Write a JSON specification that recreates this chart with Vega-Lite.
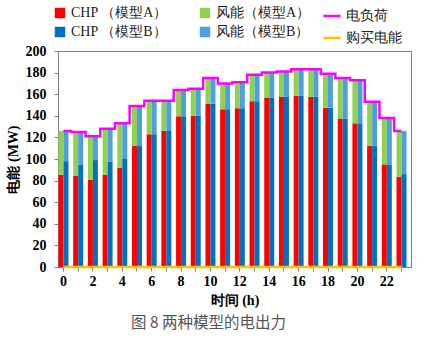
{
  "$schema": "https://vega.github.io/schema/vega-lite/v6.json",
  "width": 353,
  "height": 216,
  "autosize": "none",
  "padding": {"left": 58, "top": 51, "right": 19, "bottom": 73},
  "background": "white",
  "config": {
    "view": {"stroke": "#808080", "strokeWidth": 1},
    "font": "Liberation Serif",
    "axis": {"grid": false, "domainColor": "#808080", "tickColor": "#808080", "labelColor": "#000", "titleColor": "#000"}
  },
  "title": {
    "text": "图 8 两种模型的电出力",
    "orient": "bottom",
    "anchor": "middle",
    "frame": "bounds",
    "font": "Noto Sans CJK SC",
    "fontSize": 15.5,
    "fontWeight": "normal",
    "color": "#555555",
    "offset": 9
  },
  "datasets": {
    "bars": [
      {"hour": 0, "model": "A", "source": "CHP （模型A）", "value": 85.5},
      {"hour": 0, "model": "A", "source": "风能（模型A）", "value": 40.5},
      {"hour": 0, "model": "B", "source": "CHP （模型B）", "value": 98},
      {"hour": 0, "model": "B", "source": "风能（模型B）", "value": 28},
      {"hour": 1, "model": "A", "source": "CHP （模型A）", "value": 84.5},
      {"hour": 1, "model": "A", "source": "风能（模型A）", "value": 40.5},
      {"hour": 1, "model": "B", "source": "CHP （模型B）", "value": 94.5},
      {"hour": 1, "model": "B", "source": "风能（模型B）", "value": 30.5},
      {"hour": 2, "model": "A", "source": "CHP （模型A）", "value": 81},
      {"hour": 2, "model": "A", "source": "风能（模型A）", "value": 40},
      {"hour": 2, "model": "B", "source": "CHP （模型B）", "value": 99},
      {"hour": 2, "model": "B", "source": "风能（模型B）", "value": 22},
      {"hour": 3, "model": "A", "source": "CHP （模型A）", "value": 85.5},
      {"hour": 3, "model": "A", "source": "风能（模型A）", "value": 42.5},
      {"hour": 3, "model": "B", "source": "CHP （模型B）", "value": 97.5},
      {"hour": 3, "model": "B", "source": "风能（模型B）", "value": 30.5},
      {"hour": 4, "model": "A", "source": "CHP （模型A）", "value": 92},
      {"hour": 4, "model": "A", "source": "风能（模型A）", "value": 41},
      {"hour": 4, "model": "B", "source": "CHP （模型B）", "value": 100},
      {"hour": 4, "model": "B", "source": "风能（模型B）", "value": 33},
      {"hour": 5, "model": "A", "source": "CHP （模型A）", "value": 112},
      {"hour": 5, "model": "A", "source": "风能（模型A）", "value": 37},
      {"hour": 5, "model": "B", "source": "CHP （模型B）", "value": 112},
      {"hour": 5, "model": "B", "source": "风能（模型B）", "value": 37},
      {"hour": 6, "model": "A", "source": "CHP （模型A）", "value": 123},
      {"hour": 6, "model": "A", "source": "风能（模型A）", "value": 31},
      {"hour": 6, "model": "B", "source": "CHP （模型B）", "value": 123},
      {"hour": 6, "model": "B", "source": "风能（模型B）", "value": 31},
      {"hour": 7, "model": "A", "source": "CHP （模型A）", "value": 126},
      {"hour": 7, "model": "A", "source": "风能（模型A）", "value": 28},
      {"hour": 7, "model": "B", "source": "CHP （模型B）", "value": 126},
      {"hour": 7, "model": "B", "source": "风能（模型B）", "value": 28},
      {"hour": 8, "model": "A", "source": "CHP （模型A）", "value": 139.5},
      {"hour": 8, "model": "A", "source": "风能（模型A）", "value": 24.5},
      {"hour": 8, "model": "B", "source": "CHP （模型B）", "value": 139.5},
      {"hour": 8, "model": "B", "source": "风能（模型B）", "value": 24.5},
      {"hour": 9, "model": "A", "source": "CHP （模型A）", "value": 140},
      {"hour": 9, "model": "A", "source": "风能（模型A）", "value": 25},
      {"hour": 9, "model": "B", "source": "CHP （模型B）", "value": 140},
      {"hour": 9, "model": "B", "source": "风能（模型B）", "value": 25},
      {"hour": 10, "model": "A", "source": "CHP （模型A）", "value": 151.5},
      {"hour": 10, "model": "A", "source": "风能（模型A）", "value": 23.5},
      {"hour": 10, "model": "B", "source": "CHP （模型B）", "value": 151.5},
      {"hour": 10, "model": "B", "source": "风能（模型B）", "value": 23.5},
      {"hour": 11, "model": "A", "source": "CHP （模型A）", "value": 146},
      {"hour": 11, "model": "A", "source": "风能（模型A）", "value": 24},
      {"hour": 11, "model": "B", "source": "CHP （模型B）", "value": 146},
      {"hour": 11, "model": "B", "source": "风能（模型B）", "value": 24},
      {"hour": 12, "model": "A", "source": "CHP （模型A）", "value": 147},
      {"hour": 12, "model": "A", "source": "风能（模型A）", "value": 24},
      {"hour": 12, "model": "B", "source": "CHP （模型B）", "value": 147},
      {"hour": 12, "model": "B", "source": "风能（模型B）", "value": 24},
      {"hour": 13, "model": "A", "source": "CHP （模型A）", "value": 153.5},
      {"hour": 13, "model": "A", "source": "风能（模型A）", "value": 24.5},
      {"hour": 13, "model": "B", "source": "CHP （模型B）", "value": 153.5},
      {"hour": 13, "model": "B", "source": "风能（模型B）", "value": 24.5},
      {"hour": 14, "model": "A", "source": "CHP （模型A）", "value": 157},
      {"hour": 14, "model": "A", "source": "风能（模型A）", "value": 23},
      {"hour": 14, "model": "B", "source": "CHP （模型B）", "value": 157},
      {"hour": 14, "model": "B", "source": "风能（模型B）", "value": 23},
      {"hour": 15, "model": "A", "source": "CHP （模型A）", "value": 157.5},
      {"hour": 15, "model": "A", "source": "风能（模型A）", "value": 23.5},
      {"hour": 15, "model": "B", "source": "CHP （模型B）", "value": 157.5},
      {"hour": 15, "model": "B", "source": "风能（模型B）", "value": 23.5},
      {"hour": 16, "model": "A", "source": "CHP （模型A）", "value": 158.5},
      {"hour": 16, "model": "A", "source": "风能（模型A）", "value": 24.5},
      {"hour": 16, "model": "B", "source": "CHP （模型B）", "value": 158.5},
      {"hour": 16, "model": "B", "source": "风能（模型B）", "value": 24.5},
      {"hour": 17, "model": "A", "source": "CHP （模型A）", "value": 157.5},
      {"hour": 17, "model": "A", "source": "风能（模型A）", "value": 25.5},
      {"hour": 17, "model": "B", "source": "CHP （模型B）", "value": 157.5},
      {"hour": 17, "model": "B", "source": "风能（模型B）", "value": 25.5},
      {"hour": 18, "model": "A", "source": "CHP （模型A）", "value": 147.5},
      {"hour": 18, "model": "A", "source": "风能（模型A）", "value": 31.5},
      {"hour": 18, "model": "B", "source": "CHP （模型B）", "value": 147.5},
      {"hour": 18, "model": "B", "source": "风能（模型B）", "value": 31.5},
      {"hour": 19, "model": "A", "source": "CHP （模型A）", "value": 137.5},
      {"hour": 19, "model": "A", "source": "风能（模型A）", "value": 37.5},
      {"hour": 19, "model": "B", "source": "CHP （模型B）", "value": 137.5},
      {"hour": 19, "model": "B", "source": "风能（模型B）", "value": 37.5},
      {"hour": 20, "model": "A", "source": "CHP （模型A）", "value": 133},
      {"hour": 20, "model": "A", "source": "风能（模型A）", "value": 40},
      {"hour": 20, "model": "B", "source": "CHP （模型B）", "value": 133},
      {"hour": 20, "model": "B", "source": "风能（模型B）", "value": 40},
      {"hour": 21, "model": "A", "source": "CHP （模型A）", "value": 112},
      {"hour": 21, "model": "A", "source": "风能（模型A）", "value": 41},
      {"hour": 21, "model": "B", "source": "CHP （模型B）", "value": 112},
      {"hour": 21, "model": "B", "source": "风能（模型B）", "value": 41},
      {"hour": 22, "model": "A", "source": "CHP （模型A）", "value": 95},
      {"hour": 22, "model": "A", "source": "风能（模型A）", "value": 43},
      {"hour": 22, "model": "B", "source": "CHP （模型B）", "value": 95},
      {"hour": 22, "model": "B", "source": "风能（模型B）", "value": 43},
      {"hour": 23, "model": "A", "source": "CHP （模型A）", "value": 83.5},
      {"hour": 23, "model": "A", "source": "风能（模型A）", "value": 42.5},
      {"hour": 23, "model": "B", "source": "CHP （模型B）", "value": 86},
      {"hour": 23, "model": "B", "source": "风能（模型B）", "value": 40}
    ],
    "lines": [
      {"hour": 0, "series": "电负荷", "value": 126}, {"hour": 1, "series": "电负荷", "value": 125},
      {"hour": 2, "series": "电负荷", "value": 121}, {"hour": 3, "series": "电负荷", "value": 128},
      {"hour": 4, "series": "电负荷", "value": 133}, {"hour": 5, "series": "电负荷", "value": 149},
      {"hour": 6, "series": "电负荷", "value": 154}, {"hour": 7, "series": "电负荷", "value": 154},
      {"hour": 8, "series": "电负荷", "value": 164}, {"hour": 9, "series": "电负荷", "value": 165},
      {"hour": 10, "series": "电负荷", "value": 175}, {"hour": 11, "series": "电负荷", "value": 170},
      {"hour": 12, "series": "电负荷", "value": 171}, {"hour": 13, "series": "电负荷", "value": 178},
      {"hour": 14, "series": "电负荷", "value": 180}, {"hour": 15, "series": "电负荷", "value": 181},
      {"hour": 16, "series": "电负荷", "value": 183}, {"hour": 17, "series": "电负荷", "value": 183},
      {"hour": 18, "series": "电负荷", "value": 179}, {"hour": 19, "series": "电负荷", "value": 175},
      {"hour": 20, "series": "电负荷", "value": 173}, {"hour": 21, "series": "电负荷", "value": 153},
      {"hour": 22, "series": "电负荷", "value": 138}, {"hour": 23, "series": "电负荷", "value": 126},
      {"hour": 0, "series": "购买电能", "value": 0}, {"hour": 1, "series": "购买电能", "value": 0},
      {"hour": 2, "series": "购买电能", "value": 0}, {"hour": 3, "series": "购买电能", "value": 0},
      {"hour": 4, "series": "购买电能", "value": 0}, {"hour": 5, "series": "购买电能", "value": 0},
      {"hour": 6, "series": "购买电能", "value": 0}, {"hour": 7, "series": "购买电能", "value": 0},
      {"hour": 8, "series": "购买电能", "value": 0}, {"hour": 9, "series": "购买电能", "value": 0},
      {"hour": 10, "series": "购买电能", "value": 0}, {"hour": 11, "series": "购买电能", "value": 0},
      {"hour": 12, "series": "购买电能", "value": 0}, {"hour": 13, "series": "购买电能", "value": 0},
      {"hour": 14, "series": "购买电能", "value": 0}, {"hour": 15, "series": "购买电能", "value": 0},
      {"hour": 16, "series": "购买电能", "value": 0}, {"hour": 17, "series": "购买电能", "value": 0},
      {"hour": 18, "series": "购买电能", "value": 0}, {"hour": 19, "series": "购买电能", "value": 0},
      {"hour": 20, "series": "购买电能", "value": 0}, {"hour": 21, "series": "购买电能", "value": 0},
      {"hour": 22, "series": "购买电能", "value": 0}, {"hour": 23, "series": "购买电能", "value": 0}
    ]
  },
  "encoding": {
    "x": {
      "field": "hour",
      "type": "ordinal",
      "scale": {"paddingInner": 0.32, "paddingOuter": 0.17, "align": 0.1},
      "axis": {
        "title": "时间 (h)",
        "labelAngle": 0,
        "labelExpr": "datum.value % 2 == 0 ? datum.label : ''",
        "labelFont": "Liberation Serif",
        "labelFontSize": 14,
        "labelFontWeight": "bold",
        "labelPadding": 3,
        "tickSize": 4,
        "titleFont": "Liberation Serif",
        "titleFontSize": 14,
        "titleFontWeight": "bold",
        "titlePadding": 5
      }
    },
    "y": {
      "field": "value",
      "type": "quantitative",
      "scale": {"domain": [0, 200], "nice": false},
      "axis": {
        "title": "电能 (MW)",
        "values": [0, 20, 40, 60, 80, 100, 120, 140, 160, 180, 200],
        "labelOverlap": false,
        "labelFont": "Liberation Serif",
        "labelFontSize": 14,
        "labelFontWeight": "bold",
        "labelPadding": 8,
        "tickSize": 4,
        "titleFont": "Liberation Serif",
        "titleFontSize": 14,
        "titleFontWeight": "bold",
        "titlePadding": 5
      }
    }
  },
  "layer": [
    {
      "data": {"name": "bars"},
      "mark": {"type": "bar"},
      "encoding": {
        "xOffset": {"field": "model", "type": "nominal", "scale": {"domain": ["A", "B"], "paddingInner": 0, "paddingOuter": 0}},
        "y": {"field": "value", "type": "quantitative", "stack": "zero"},
        "color": {
          "field": "source",
          "type": "nominal",
          "scale": {
            "domain": ["CHP （模型A）", "CHP （模型B）", "风能（模型A）", "风能（模型B）"],
            "range": ["#FF0000", "#0070C0", "#92D050", "#4DA0E0"]
          },
          "legend": {
            "title": null,
            "orient": "none",
            "legendX": -5,
            "legendY": -45,
            "columns": 2,
            "columnPadding": 30,
            "rowPadding": 5,
            "symbolType": "square",
            "symbolSize": 110,
            "symbolStrokeWidth": 0,
            "labelFont": "Liberation Serif",
            "labelFontSize": 14,
            "labelColor": "#222"
          }
        },
        "order": {"field": "source", "sort": "ascending"}
      }
    },
    {
      "data": {"name": "lines"},
      "mark": {"type": "line", "interpolate": "step", "strokeWidth": 2.5},
      "encoding": {
        "stroke": {
          "field": "series",
          "type": "nominal",
          "scale": {"domain": ["电负荷", "购买电能"], "range": ["#FF00FF", "#FFC000"]},
          "legend": {
            "title": null,
            "orient": "none",
            "legendX": 264,
            "legendY": -45,
            "columns": 1,
            "rowPadding": 5,
            "symbolType": "stroke",
            "symbolSize": 300,
            "symbolStrokeWidth": 2.5,
            "labelFont": "Liberation Serif",
            "labelFontSize": 14,
            "labelColor": "#222"
          }
        }
      }
    }
  ]
}
